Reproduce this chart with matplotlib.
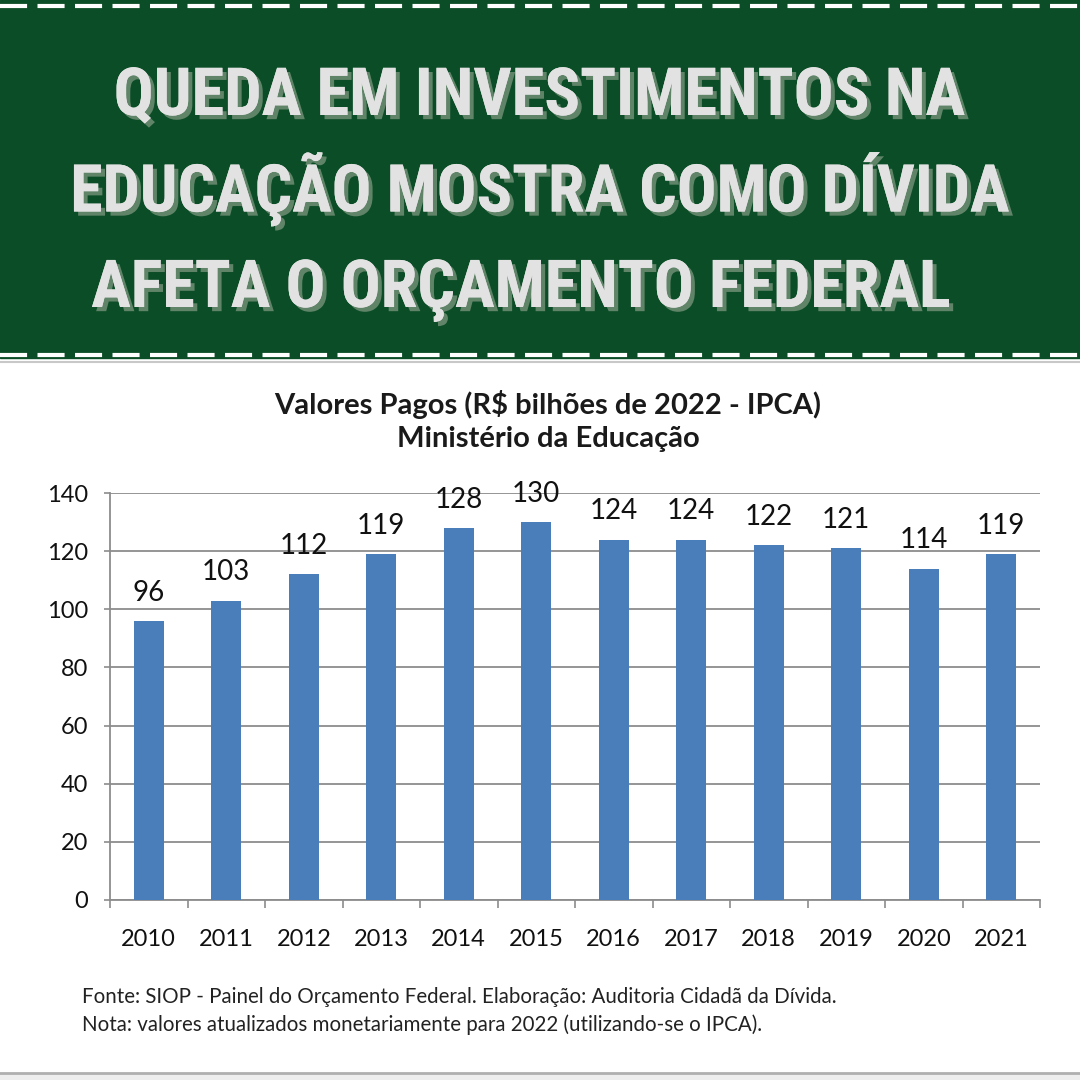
#! /usr/bin/env python3

# Bar chart: Ministério da Educação - Valores Pagos (R$ bilhões de 2022 - IPCA)
import matplotlib
matplotlib.use('Agg')
import matplotlib.pyplot as plt
import matplotlib.font_manager as fm
from matplotlib.patches import Rectangle
from matplotlib.lines import Line2D
import matplotlib.patheffects as pe

# Data
years = ['2010', '2011', '2012', '2013', '2014', '2015',
         '2016', '2017', '2018', '2019', '2020', '2021']
valores = [96, 103, 112, 119, 128, 130, 124, 124, 122, 121, 114, 119]
yticks = [0, 20, 40, 60, 80, 100, 120, 140]

headline = ['QUEDA EM INVESTIMENTOS NA',
            'EDUCAÇÃO MOSTRA COMO DÍVIDA',
            'AFETA O ORÇAMENTO FEDERAL']
chart_title = 'Valores Pagos (R$ bilhões de 2022 - IPCA)\nMinistério da Educação'
fonte = 'Fonte: SIOP - Painel do Orçamento Federal. Elaboração: Auditoria Cidadã da Dívida.'
nota = 'Nota: valores atualizados monetariamente para 2022 (utilizando-se o IPCA).'

W = H = 1080
green = '#0b4d26'
bar_color = '#4a7ebb'
grid_color = '#8c8c8c'
body_font = ['Lato', 'DejaVu Sans']


# look for a condensed bold font for the headline
def pick_condensed():
    prefs = ['Roboto Condensed', 'Liberation Sans Narrow', 'DejaVu Sans Condensed',
             'Open Sans Condensed', 'Noto Sans Condensed']
    found = {}
    for f in fm.fontManager.ttflist:
        tag = (f.name + ' ' + f.fname).lower()
        if ('condensed' in tag or 'narrow' in tag) and 'italic' not in tag \
                and 'oblique' not in tag and 'bold' in tag \
                and 'semi' not in tag and 'extra' not in tag:
            found.setdefault(f.name, f.fname)
    for p in prefs:
        if p in found:
            return fm.FontProperties(fname=found[p])
    if found:
        return fm.FontProperties(fname=list(found.values())[0])
    return fm.FontProperties(family=['Roboto', 'DejaVu Sans'], weight='bold')


head_prop = pick_condensed()

fig = plt.figure(figsize=(10.8, 10.8), dpi=100)
fig.patch.set_facecolor('white')

# background layer in pixel coordinates
bg = fig.add_axes([0, 0, 1, 1])
bg.set_xlim(0, W)
bg.set_ylim(H, 0)
bg.axis('off')

# green banner
bg.add_patch(Rectangle((0, 0), W, 358, color=green, zorder=0))
for yy in (6, 355):
    bg.add_line(Line2D([0, W], [yy, yy], color='white', lw=3,
                       dashes=(6.5, 2.5), zorder=1))
bg.add_line(Line2D([0, W], [362, 362], color='#c8c8c8', lw=1.5, zorder=1))
bg.add_line(Line2D([0, W], [1073, 1073], color='#b0b0b0', lw=2, zorder=1))
bg.add_patch(Rectangle((0, 1074), W, 6, color='#eeeeee', zorder=0))

# headline with drop shadow, each line fitted to the reference width
shadow = [pe.withSimplePatchShadow(offset=(3, -3), shadow_rgbFace='#5f8468',
                                   alpha=1.0), pe.Normal()]
line_x = [539, 540, 520]
line_y = [97, 189, 290]
line_w = [852, 940, 860]
renderer = fig.canvas.get_renderer()
for line, xx, yy, ww in zip(headline, line_x, line_y, line_w):
    t = bg.text(xx, yy, line, color='#e2e2e2', fontproperties=head_prop,
                fontsize=60, ha='center', va='center', zorder=3,
                path_effects=shadow)
    w = t.get_window_extent(renderer).width
    t.set_fontsize(min(80, 60 * ww / w))

# chart title and notes
bg.text(548, 421, chart_title, ha='center', va='center', fontsize=21,
        fontweight='bold', family=body_font, color='#1a1a1a',
        linespacing=1.3)
bg.text(82, 997, fonte, ha='left', va='center', fontsize=14.8,
        family=body_font, color='#222222')
bg.text(82, 1025, nota, ha='left', va='center', fontsize=14.8,
        family=body_font, color='#222222')

# bar chart
left, right, top, bottom = 110, 1040, 493, 900
ax = fig.add_axes([left / W, 1 - bottom / H, (right - left) / W,
                   (bottom - top) / H])
ax.set_facecolor('white')
x = list(range(len(years)))
ax.bar(x, valores, width=0.39, color=bar_color, zorder=3)
for xi, v in zip(x, valores):
    ax.annotate(str(v), (xi, v), xytext=(0, 11), textcoords='offset points',
                ha='center', va='bottom', fontsize=20, family=body_font,
                color='#111111')

ax.set_xlim(-0.5, len(years) - 0.5)
ax.set_ylim(0, 140)
ax.set_yticks(yticks)
ax.set_yticklabels([str(t) for t in yticks], fontsize=17, family=body_font,
                   color='#111111')
ax.set_xticks(x)
ax.set_xticklabels(years, fontsize=17, family=body_font, color='#111111')
ax.set_xticks([i - 0.5 for i in range(len(years) + 1)], minor=True)
ax.tick_params(axis='x', which='major', length=0, pad=21)
ax.tick_params(axis='x', which='minor', length=6, color=grid_color, width=1.2,
               direction='out')
ax.tick_params(axis='y', length=4, color=grid_color, width=1.2, pad=12)
ax.yaxis.grid(True, color=grid_color, lw=1.3, zorder=0)
for s in ('top', 'right'):
    ax.spines[s].set_visible(False)
for s in ('left', 'bottom'):
    ax.spines[s].set_color(grid_color)
    ax.spines[s].set_linewidth(1.3)

fig.savefig('out.png', dpi=100, facecolor='white')
